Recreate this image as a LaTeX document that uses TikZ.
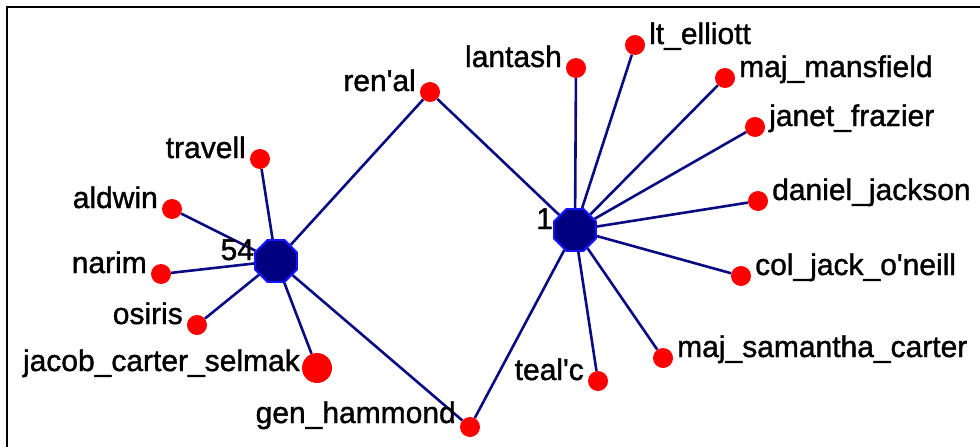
\documentclass[tikz,border=0pt]{standalone}
\usepackage{fontspec}
\setmainfont{Liberation Sans}
\newfontfamily\lblfont{Liberation Sans}[FakeBold=1.2]
\usetikzlibrary{shapes.geometric,backgrounds}
\definecolor{edgeblue}{RGB}{10,10,130}
\definecolor{hubfill}{RGB}{0,0,128}
\definecolor{hubline}{RGB}{20,20,255}
\definecolor{dotred}{RGB}{255,0,0}
\begin{document}
\begin{tikzpicture}[x=1pt,y=-1pt,
  hub/.style={regular polygon,regular polygon sides=8,minimum size=45pt,inner sep=0pt,fill=hubfill,draw=hubline,line width=2pt},
  dot/.style={circle,fill=dotred,minimum size=20pt,inner sep=0pt},
  bigdot/.style={circle,fill=dotred,minimum size=30pt,inner sep=0pt},
  lbl/.style={inner sep=0pt,font=\lblfont\fontsize{30}{30}\selectfont,text=black},
  lblL/.style={lbl,anchor=base east,xshift=-14pt,yshift=1pt},
  lblR/.style={lbl,anchor=base west,xshift=14pt,yshift=1pt},
  edge/.style={draw=edgeblue,line width=2.6pt}]
\useasboundingbox (0,0) rectangle (980,447);
\draw[line width=2pt] (7,447) -- (7,7) -- (980,7);
% hubs
\node[hub] (h54) at (276,261) {};
\node[hub] (h1) at (575,230) {};
\node[lbl,anchor=base east,yshift=1pt] (l54) at (h54.west) {54};
\node[lbl,anchor=base east,yshift=1pt] (l1) at (h1.west) {1};
% leaf nodes
\node[dot] (renal) at (430,92) {};
\node[dot] (lantash) at (576,68) {};
\node[dot] (ltelliott) at (635,45) {};
\node[dot] (mansfield) at (725,78) {};
\node[dot] (janet) at (755,127) {};
\node[dot] (daniel) at (758,201) {};
\node[dot] (oneill) at (741,276) {};
\node[dot] (samantha) at (663,358) {};
\node[dot] (tealc) at (598,381) {};
\node[dot] (hammond) at (470,427) {};
\node[dot] (travell) at (260,159) {};
\node[dot] (aldwin) at (172,209) {};
\node[dot] (narim) at (161,274) {};
\node[dot] (osiris) at (197,325) {};
\node[bigdot] (jacob) at (317,368) {};
% labels
\node[lblL] (t-renal) at (renal) {ren\textquotesingle al};
\node[lblL] (t-lantash) at (lantash) {lantash};
\node[lblR] (t-ltelliott) at (ltelliott) {lt\_elliott};
\node[lblR] (t-mansfield) at (mansfield) {maj\_mansfield};
\node[lblR] (t-janet) at (janet) {janet\_frazier};
\node[lblR] (t-daniel) at (daniel) {daniel\_jackson};
\node[lblR] (t-oneill) at (oneill) {col\_jack\_o\textquotesingle neill};
\node[lblR] (t-samantha) at (samantha) {maj\_samantha\_carter};
\node[lblL] (t-tealc) at (tealc) {teal\textquotesingle c};
\node[lblL,yshift=3pt] (t-hammond) at (hammond) {gen\_hammond};
\node[lblL] (t-travell) at (travell) {travell};
\node[lblL] (t-aldwin) at (aldwin) {aldwin};
\node[lblL] (t-narim) at (narim) {narim};
\node[lblL] (t-osiris) at (osiris) {osiris};
\node[lblL,xshift=-3pt,yshift=-4pt] (t-jacob) at (jacob) {jacob\_carter\_selmak};
% edges
\begin{scope}[on background layer]
\foreach \n in {travell,aldwin,narim,osiris,jacob,renal,hammond}
  \path[edge] (h54) -- (\n);
\foreach \n in {renal,lantash,ltelliott,mansfield,janet,daniel,oneill,samantha,tealc,hammond}
  \path[edge] (h1) -- (\n);
\end{scope}
\end{tikzpicture}
\end{document}
